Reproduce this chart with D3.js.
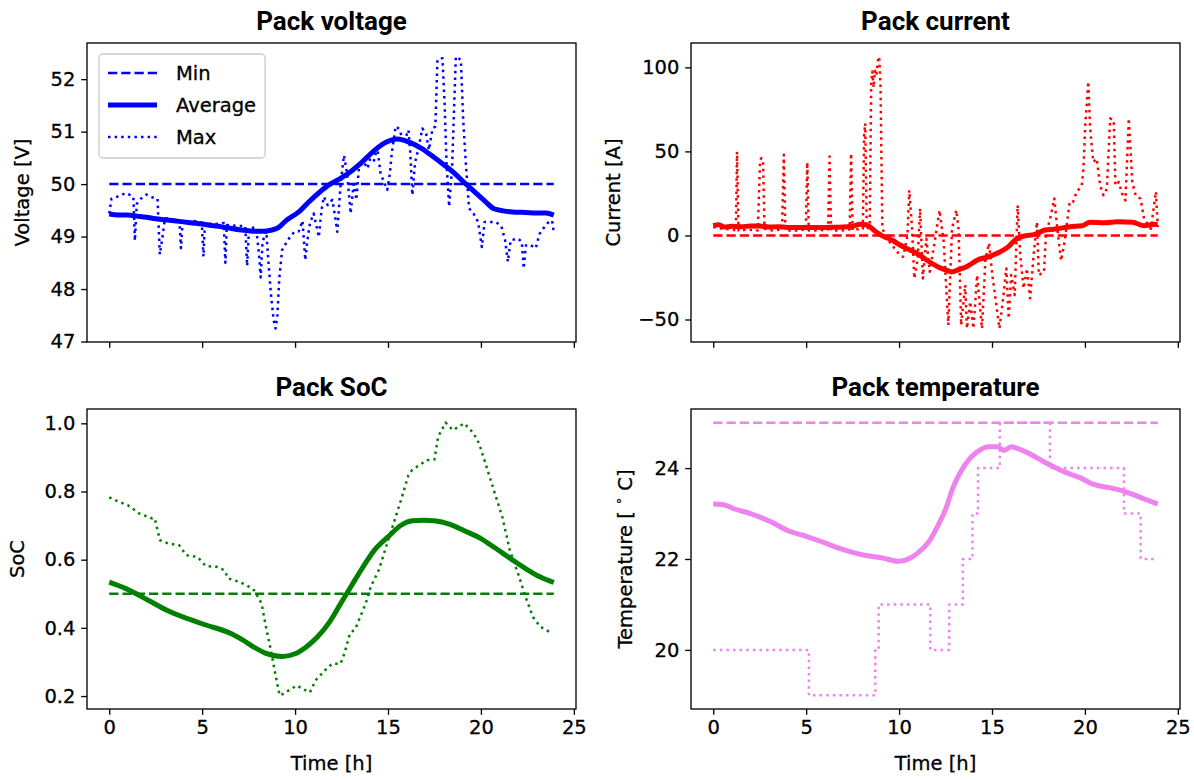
<!DOCTYPE html>
<html><head><meta charset="utf-8">
<script src="https://cdn.jsdelivr.net/npm/d3@7"></script>
<style>
body{margin:0;background:#fff}
svg{display:block}
text{font-family:'DejaVu Sans',sans-serif;fill:#000;stroke:#000;stroke-width:0.3px}
.title{font-family:Roboto,'DejaVu Sans',sans-serif;font-weight:bold;stroke-width:0}
</style></head>
<body><svg id="chart" width="1194" height="780"></svg>
<script>
// ---------------- DATA ----------------
const xTicks = [0, 5, 10, 15, 20, 25];
const legendLabels = ["Min", "Average", "Max"];

// Voltage
const tVMin = [0, 23.92];
const vVMin = [50, 50];
const tVAvg = [0,0.5,1,1.5,2,2.5,3,3.5,4,4.5,5,5.5,6,6.5,7,7.5,7.9,8.3,8.7,9.1,9.5,10.2,10.8,11.3,11.8,12.4,13.0,13.6,14.2,14.8,15.5,16.2,16.8,17.4,18.0,18.6,19.1,19.6,20.2,20.7,21.2,21.7,22.4,23.0,23.5,23.92];
const vVAvg = [49.43,49.41,49.41,49.39,49.37,49.34,49.32,49.30,49.28,49.26,49.24,49.21,49.19,49.16,49.13,49.11,49.10,49.10,49.12,49.17,49.30,49.47,49.68,49.84,49.98,50.10,50.24,50.42,50.62,50.78,50.86,50.79,50.68,50.53,50.37,50.20,50.03,49.87,49.68,49.53,49.49,49.47,49.46,49.45,49.45,49.41];
const tVMax = [0,0.12,0.5,0.9,1.2,1.3,1.38,1.48,1.7,2.0,2.3,2.6,2.72,2.85,3.0,3.4,3.78,3.86,3.95,4.5,4.98,5.07,5.15,5.7,6.16,6.25,6.33,7.0,7.32,7.42,7.52,7.9,8.05,8.15,8.25,8.45,8.55,8.7,8.85,8.95,9.05,9.15,9.3,9.6,9.95,10.2,10.4,10.55,10.65,10.8,11.0,11.15,11.28,11.42,11.55,11.75,12.0,12.15,12.27,12.45,12.63,12.8,12.99,13.15,13.3,13.44,13.7,13.9,14.05,14.25,14.42,14.6,14.96,15.1,15.2,15.41,15.6,15.75,15.9,16.1,16.2,16.31,16.45,16.65,16.85,17.05,17.2,17.4,17.55,17.66,17.93,18.05,18.15,18.29,18.45,18.65,18.92,19.05,19.2,19.36,19.6,19.85,20.05,20.2,20.8,21.1,21.3,21.45,21.6,22.0,22.2,22.3,22.42,22.6,22.95,23.15,23.45,23.7,23.83,23.92];
const vVMax = [49.44,49.72,49.77,49.83,49.78,49.75,48.92,49.62,49.72,49.80,49.75,49.72,48.66,48.95,49.35,49.33,49.30,48.78,49.28,49.30,49.27,48.62,49.25,49.24,49.26,48.50,49.22,49.20,49.20,48.44,49.15,49.18,48.70,48.22,48.90,49.10,48.60,47.90,47.40,47.25,47.50,48.20,48.74,48.93,49.09,49.10,49.30,48.55,48.90,49.25,49.44,49.20,48.99,49.50,49.76,49.60,49.70,49.40,49.09,50.00,50.55,50.20,49.44,50.00,49.70,50.33,50.42,50.30,50.50,50.45,50.71,50.20,49.89,50.20,50.58,51.10,51.05,50.90,50.84,51.03,50.60,49.79,50.40,50.70,51.06,50.96,50.65,51.06,51.10,52.37,52.40,51.50,50.40,49.57,50.33,52.43,52.37,51.20,50.33,49.54,49.44,49.28,48.80,49.28,49.28,49.20,48.93,48.52,48.93,48.96,48.90,48.39,48.83,48.85,48.78,49.05,49.20,49.30,49.30,49.08];
const voltTicks = [47, 48, 49, 50, 51, 52];

// Current
const tIMin = [0, 23.92];
const vIMin = [0, 0];
const tIAvg = [0,0.3,0.6,1.0,1.5,2.0,2.5,3.0,3.5,4.0,4.5,5.0,5.5,6.0,6.5,7.0,7.5,7.9,8.3,8.75,9.2,9.6,10.0,10.5,11.05,11.6,12.1,12.5,12.83,13.1,13.36,13.57,13.8,14.2,14.8,15.45,15.87,16.3,16.7,17.3,17.86,18.4,19.2,19.85,20.27,21.1,21.73,22.57,23.2,23.5,23.92];
const vIAvg = [5.8,6.4,5.0,5.4,5.2,5.6,5.6,5.0,5.2,4.8,4.8,4.7,4.8,4.7,4.9,5.0,5.6,6.6,6.0,2.2,-0.8,-2.6,-5.4,-8.2,-11.3,-15.5,-18.7,-20.5,-21.7,-20.8,-19.7,-18.9,-17.5,-14.7,-12.7,-9.7,-6.8,-2.2,-0.4,0.6,3.2,3.8,5.2,5.8,7.8,7.6,8.2,7.8,5.8,6.2,6.6];
const tIMax = [0,0.5,1.0,1.22,1.28,1.36,1.8,2.4,2.52,2.6,2.68,2.76,3.2,3.7,3.8,3.88,4.5,4.98,5.06,5.14,5.7,6.18,6.26,6.34,6.9,7.34,7.42,7.5,7.9,8.05,8.12,8.18,8.26,8.42,8.5,8.56,8.63,8.7,8.78,8.86,8.93,9.0,9.1,9.48,10.04,10.22,10.45,10.55,10.7,10.82,11.0,11.13,11.28,11.47,11.65,11.83,12.18,12.4,12.65,12.85,13.08,13.2,13.34,13.56,13.65,13.83,14.0,14.2,14.46,14.65,14.84,15.02,15.4,15.58,15.77,15.9,16.03,16.22,16.38,16.52,16.7,16.88,17.05,17.24,17.42,17.52,17.8,17.9,18.17,18.35,18.55,18.72,18.9,19.18,19.36,19.55,19.83,19.92,20.02,20.18,20.28,20.45,20.63,20.82,21.0,21.18,21.36,21.55,21.64,21.82,22.0,22.18,22.36,22.55,22.73,23.0,23.18,23.55,23.82,23.92];
const vIMax = [5,4,3.5,3,49.8,3,3.5,3,45,46,45,4,3,3.5,48,3,3,3.5,43.5,3,3,3.5,47,3,3,3.5,48.8,3,4,4,60,66.7,4,5,90,97.5,88,98,95,104,106.4,90,4,-3.7,-11.7,-12.7,0,26.9,4,-25.6,-14,16,-25.6,-2,-21.6,-9.7,15,-3.7,-53.3,4.2,15,4,-53.3,-29.5,-55.3,-39.4,-55.3,-23.6,-55.3,-13.7,-4.6,-23.6,-55.3,-39.4,-19.6,-49.4,-23.6,-35.5,18,-11.7,-31.5,-19.6,-37.4,-11.7,8,-23.6,-21.6,0.2,12,22,0.2,-15,-4,19.9,19.9,25.8,29.6,39.6,65.7,91.5,63.7,43.7,45.7,29.8,23.9,27.8,69.6,68.6,29.8,31.8,24.8,20.8,69.6,31.8,23.8,21.8,10,4,26,5];
const currTicks = [-50, 0, 50, 100];

// SoC
const tSMin = [0, 23.92];
const vSMin = [0.5, 0.5];
const tSAvg = [0,0.9,2.1,3.1,5.0,6.6,7.2,7.8,8.4,9.3,10.0,10.6,11.2,11.85,12.45,13.05,13.66,14.27,15.0,15.7,16.3,16.9,17.5,18.3,19.1,20.0,20.75,21.6,22.4,23.2,23.92];
const vSAvg = [0.534,0.515,0.481,0.452,0.412,0.382,0.364,0.343,0.326,0.316,0.324,0.344,0.373,0.417,0.471,0.525,0.579,0.628,0.667,0.701,0.714,0.716,0.714,0.704,0.685,0.662,0.635,0.603,0.574,0.549,0.533];
const tSMax = [0,0.5,1.0,1.6,2.3,2.45,2.73,3.2,3.75,4.15,4.75,5.2,5.8,6.2,6.4,7.0,7.4,7.8,8.0,8.2,8.4,8.7,8.9,9.17,9.4,9.7,10.1,10.4,10.8,11.1,11.6,12.0,12.45,12.65,12.95,13.25,13.5,13.8,14.07,14.5,14.9,15.3,15.7,16.1,16.3,16.7,17.1,17.5,17.7,18.1,18.5,19.1,19.6,19.9,20.3,20.75,21.15,21.55,22.0,22.4,22.8,23.2,23.7];
const vSMax = [0.783,0.770,0.760,0.736,0.721,0.721,0.657,0.647,0.643,0.613,0.608,0.581,0.579,0.569,0.545,0.535,0.525,0.510,0.491,0.471,0.412,0.334,0.275,0.202,0.207,0.218,0.231,0.221,0.211,0.246,0.275,0.295,0.295,0.324,0.383,0.398,0.432,0.471,0.520,0.569,0.638,0.706,0.775,0.848,0.863,0.878,0.892,0.894,0.961,1.002,0.980,1.000,0.971,0.941,0.873,0.794,0.726,0.628,0.559,0.491,0.432,0.403,0.388];
const socTicks = [0.2, 0.4, 0.6, 0.8, 1.0];

// Temperature
const tTMin = [0, 23.92];
const vTMin = [25, 25];
const tTAvg = [0,0.5,1.15,2.0,3.04,4.1,5.0,5.77,6.6,7.45,8.3,9.13,9.97,10.3,10.6,11.0,11.55,12.07,12.5,12.9,13.33,13.85,14.4,14.8,15.32,15.5,15.64,16.06,16.5,17.1,17.74,18.37,19.0,19.73,20.47,21.3,21.94,22.57,23.2,23.92];
const vTAvg = [23.21,23.2,23.1,23.0,22.83,22.61,22.5,22.39,22.26,22.15,22.07,22.02,21.95,21.97,22.02,22.13,22.35,22.72,23.09,23.57,23.93,24.23,24.41,24.47,24.47,24.42,24.39,24.47,24.41,24.30,24.15,24.02,23.9,23.79,23.64,23.57,23.51,23.42,23.32,23.21];
const tTMax = [0,5.15,8.72,8.9,11.68,12.7,13.43,13.95,14.25,15.42,18.12,22.1,23.0,23.92];
const vTMax = [20,19,20,21,20,21,22,23,24,25,24,23,22,22];
const tempTicks = [20, 22, 24];

// ---------------- DRAW ----------------
const svg = d3.select("#chart");
const FS = 19.5;

const panels = [
  {title:"Pack voltage", ylabel:"Voltage [V]", color:"#0000ff", x0:87, x1:576, y0:43, y1:342,
   series:[{t:tVMin,v:vVMin,kind:"min"},{t:tVAvg,v:vVAvg,kind:"avg"},{t:tVMax,v:vVMax,kind:"max"}],
   yTicks:voltTicks, fmt:d3.format("d"), xLabels:false, legend:true, ylx:22},
  {title:"Pack current", ylabel:"Current [A]", color:"#ff0000", x0:691, x1:1180, y0:43, y1:342,
   series:[{t:tIMin,v:vIMin,kind:"min"},{t:tIAvg,v:vIAvg,kind:"avg"},{t:tIMax,v:vIMax,kind:"max"}],
   yTicks:currTicks, fmt:d3.format("d"), xLabels:false, ylx:613},
  {title:"Pack SoC", ylabel:"SoC", color:"#008000", x0:87, x1:576, y0:409, y1:709,
   series:[{t:tSMin,v:vSMin,kind:"min"},{t:tSAvg,v:vSAvg,kind:"avg"},{t:tSMax,v:vSMax,kind:"max"}],
   yTicks:socTicks, fmt:d3.format(".1f"), xLabels:true, ylx:17},
  {title:"Pack temperature", ylabel:"TEMP", color:"#ee82ee", x0:691, x1:1180, y0:409, y1:709,
   series:[{t:tTMin,v:vTMin,kind:"min"},{t:tTAvg,v:vTAvg,kind:"avg"},{t:tTMax,v:vTMax,kind:"max",step:true}],
   yTicks:tempTicks, fmt:d3.format("d"), xLabels:true, ylx:625}
];

const styles = {
  min:{w:2.5, dash:"9.25,4", cap:"butt"},
  avg:{w:5, dash:null, cap:"butt"},
  max:{w:2.5, dash:"2.5,4.1", cap:"butt"}
};

panels.forEach((p, pi) => {
  const g = svg.append("g");
  const allT = [].concat(...p.series.map(s => s.t));
  const allV = [].concat(...p.series.map(s => s.v));
  const te = d3.extent(allT), ve = d3.extent(allV);
  const tp = (te[1]-te[0])*0.05, vp = (ve[1]-ve[0])*0.05;
  const x = d3.scaleLinear().domain([te[0]-tp, te[1]+tp]).range([p.x0, p.x1]);
  const y = d3.scaleLinear().domain([ve[0]-vp, ve[1]+vp]).range([p.y1, p.y0]);

  const clipId = "clip"+pi;
  svg.append("clipPath").attr("id", clipId).append("rect")
    .attr("x", p.x0).attr("y", p.y0).attr("width", p.x1-p.x0).attr("height", p.y1-p.y0);

  const lines = g.append("g").attr("clip-path", `url(#${clipId})`);
  p.series.forEach(s => {
    const st = styles[s.kind];
    const data = s.t.map((t, i) => [t, s.v[i]]);
    const curve = s.step ? d3.curveStepAfter : (s.kind === "avg" ? d3.curveMonotoneX : d3.curveLinear);
    const line = d3.line().x(d => x(d[0])).y(d => y(d[1])).curve(curve);
    lines.append("path").attr("d", line(data))
      .attr("fill", "none").attr("stroke", p.color)
      .attr("stroke-width", st.w)
      .attr("stroke-dasharray", st.dash)
      .attr("stroke-linecap", st.cap)
      .attr("stroke-linejoin", "round");
  });

  // axes
  const ya = d3.axisLeft(y).tickValues(p.yTicks).tickSize(5.8).tickPadding(5.8).tickFormat(p.fmt);
  const yg = g.append("g").attr("transform", `translate(${p.x0},0)`).call(ya);
  const xa = d3.axisBottom(x).tickValues(xTicks).tickSize(5.8).tickPadding(5.8)
    .tickFormat(p.xLabels ? d3.format("d") : () => "");
  const xg = g.append("g").attr("transform", `translate(0,${p.y1})`).call(xa);
  [yg, xg].forEach(a => {
    a.select(".domain").remove();
    a.attr("font-family", null).attr("font-size", null);
    a.selectAll("line").attr("stroke", "#000").attr("stroke-width", 1.33);
    a.selectAll("text").style("font-size", FS+"px").attr("fill", "#000");
  });

  // frame
  g.append("rect").attr("x", p.x0).attr("y", p.y0)
    .attr("width", p.x1-p.x0).attr("height", p.y1-p.y0)
    .attr("fill", "none").attr("stroke", "#000").attr("stroke-width", 1.33);

  // title
  g.append("text").attr("class", "title").attr("x", (p.x0+p.x1)/2).attr("y", p.y0-13)
    .attr("text-anchor", "middle")
    .style("font-size", "26px").text(p.title);

  // y label
  const yl = g.append("text")
    .attr("transform", `translate(${p.ylx},${(p.y0+p.y1)/2}) rotate(-90)`)
    .attr("text-anchor", "middle").attr("dominant-baseline", "central")
    .style("font-size", FS+"px");
  if (p.ylabel === "TEMP") {
    yl.append("tspan").text("Temperature [ ");
    yl.append("tspan").attr("dy", -7).style("font-size", "13px").text("\u2218");
    yl.append("tspan").attr("dy", 7).text(" C]");
  } else {
    yl.text(p.ylabel);
  }

  // x label
  if (p.xLabels) {
    g.append("text").attr("x", (p.x0+p.x1)/2).attr("y", 763)
      .attr("text-anchor", "middle").attr("dominant-baseline", "central")
      .style("font-size", FS+"px").text("Time [h]");
  }

  // legend
  if (p.legend) {
    const lg = g.append("g");
    const box = lg.append("rect").attr("x", 99).attr("y", 54).attr("rx", 4).attr("ry", 4)
      .attr("fill", "#fff").attr("fill-opacity", 0.8).attr("stroke", "#cccccc").attr("stroke-width", 1.33);
    const kinds = ["min", "avg", "max"];
    let maxRight = 0;
    legendLabels.forEach((lab, i) => {
      const yy = 73 + i*32;
      const st = styles[kinds[i]];
      lg.append("line").attr("x1", 108).attr("x2", 157).attr("y1", yy).attr("y2", yy)
        .attr("stroke", p.color).attr("stroke-width", st.w).attr("stroke-dasharray", st.dash);
      const t = lg.append("text").attr("x", 176).attr("y", yy).attr("dominant-baseline", "central")
        .style("font-size", FS+"px").text(lab);
      const bb = t.node().getBBox();
      maxRight = Math.max(maxRight, bb.x + bb.width);
    });
    box.attr("width", maxRight + 9 - 99).attr("height", 104);
  }
});
</script>
</body></html>
